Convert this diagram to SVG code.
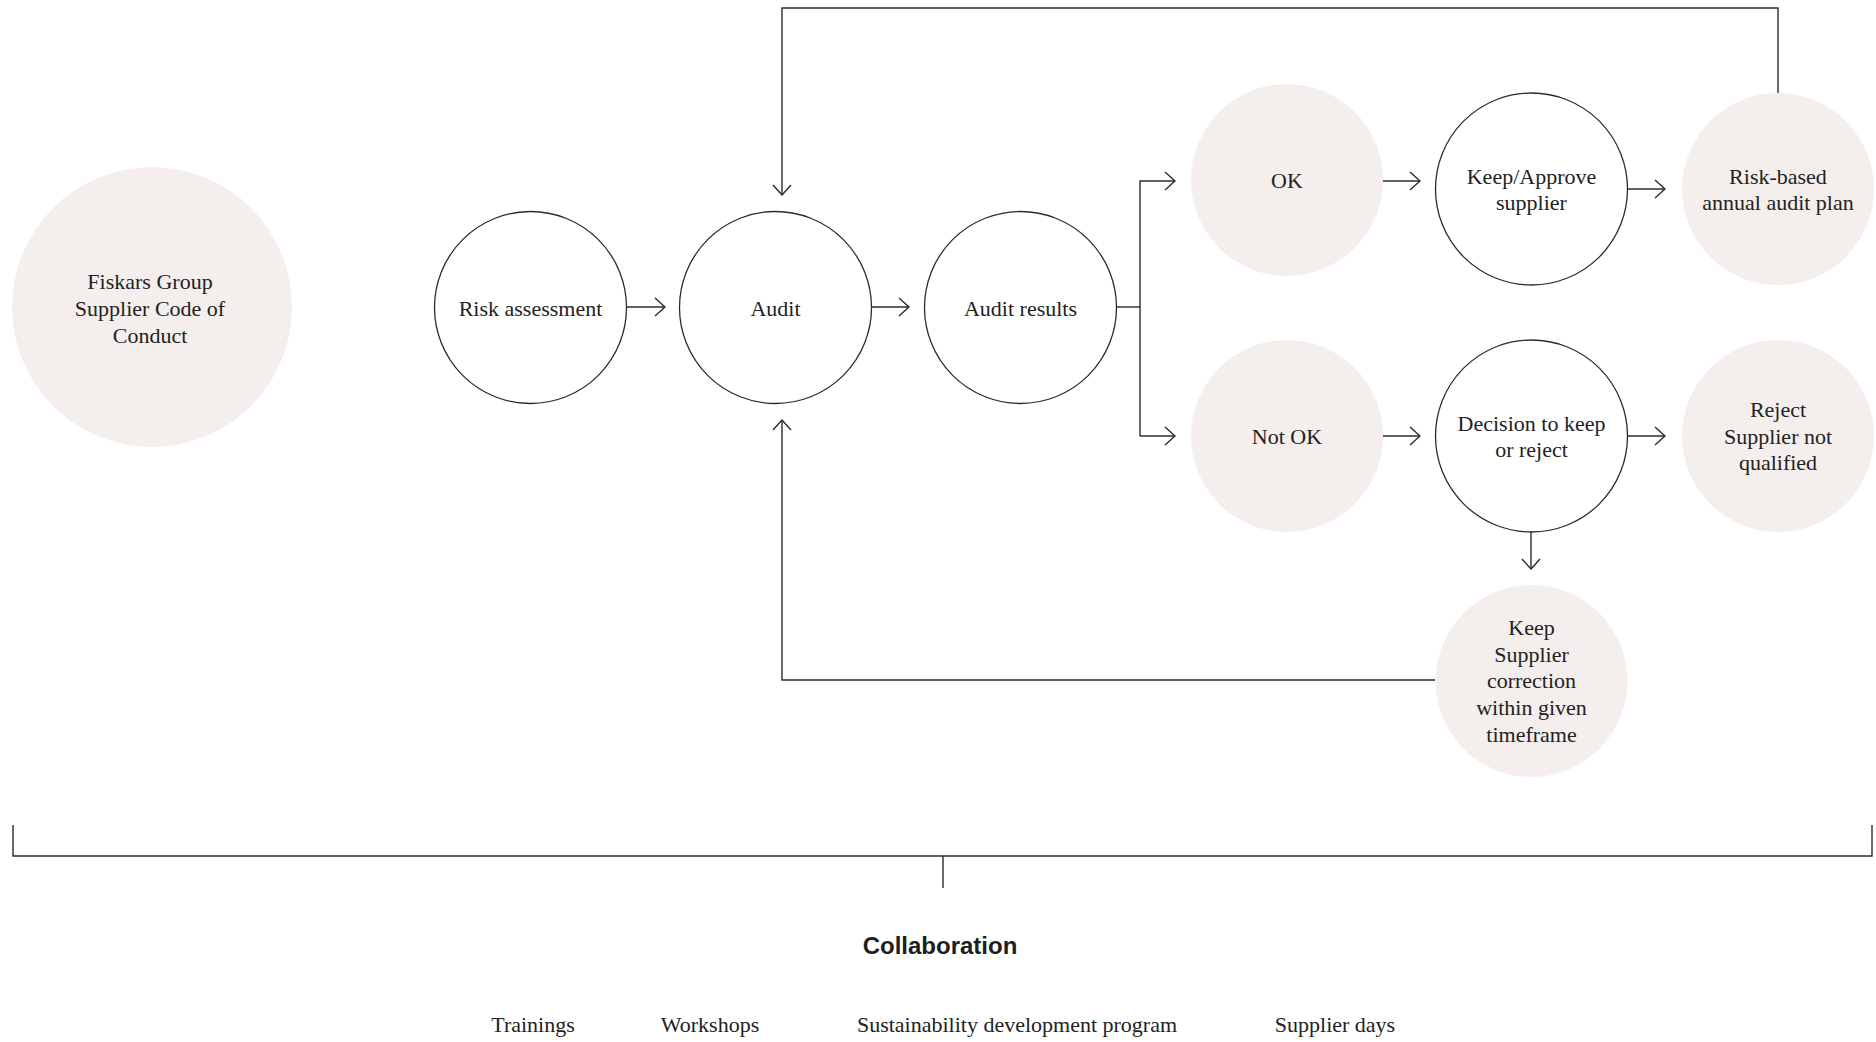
<svg xmlns="http://www.w3.org/2000/svg" width="1876" height="1042" viewBox="0 0 1876 1042">
<style>
  .bg { fill: #ffffff; }
  .soft { fill: #f4efed; stroke: none; }
  .ring { fill: #ffffff; stroke: #2b2b2b; stroke-width: 1.3; }
  .t { font-family: "Liberation Serif", "Times New Roman", serif; font-size: 22px; fill: #222222; text-anchor: middle; }
  .h { font-family: "Liberation Sans", Arial, sans-serif; font-size: 24px; font-weight: bold; fill: #1e1e1e; text-anchor: middle; }
  .c { fill: none; stroke: #2b2b2b; stroke-width: 1.4; }
</style>
<defs>
  <marker id="arr" viewBox="0 0 12 20" refX="11" refY="10" markerWidth="12" markerHeight="20" markerUnits="userSpaceOnUse" orient="auto">
    <path d="M1,1 L11,10 L1,19" fill="none" stroke="#2b2b2b" stroke-width="1.4"/>
  </marker>
</defs>
<rect class="bg" x="0" y="0" width="1876" height="1042"/>

<g id="connectors">
  <line class="c" x1="627" y1="307" x2="665" y2="307" marker-end="url(#arr)"/>
  <line class="c" x1="871" y1="307" x2="909" y2="307" marker-end="url(#arr)"/>
  <polyline class="c" points="1117,307 1140,307"/>
  <polyline class="c" points="1140,436 1140,181 1175,181" marker-end="url(#arr)"/>
  <line class="c" x1="1140" y1="436" x2="1175" y2="436" marker-end="url(#arr)"/>
  <line class="c" x1="1383" y1="181" x2="1420" y2="181" marker-end="url(#arr)"/>
  <line class="c" x1="1628" y1="189" x2="1665" y2="189" marker-end="url(#arr)"/>
  <line class="c" x1="1383" y1="436" x2="1420" y2="436" marker-end="url(#arr)"/>
  <line class="c" x1="1628" y1="436" x2="1665" y2="436" marker-end="url(#arr)"/>
  <line class="c" x1="1531" y1="532" x2="1531" y2="569" marker-end="url(#arr)"/>
  <polyline class="c" points="1435,680 782,680 782,420" marker-end="url(#arr)"/>
  <polyline class="c" points="1778,93 1778,8 782,8 782,195" marker-end="url(#arr)"/>
  <path class="c" d="M13,825 V856 H1872 V825 M943,856 V888"/>
</g>

<g id="node-code">
  <circle class="soft" cx="152" cy="307" r="140"/>
  <text class="t" x="150" y="289">Fiskars Group</text>
  <text class="t" x="150" y="316">Supplier Code of</text>
  <text class="t" x="150" y="343">Conduct</text>
</g>
<g id="node-risk">
  <circle class="ring" cx="530.5" cy="307.5" r="96"/>
  <text class="t" x="530.5" y="316">Risk assessment</text>
</g>
<g id="node-audit">
  <circle class="ring" cx="775.5" cy="307.5" r="96"/>
  <text class="t" x="775.5" y="316">Audit</text>
</g>
<g id="node-results">
  <circle class="ring" cx="1020.5" cy="307.5" r="96"/>
  <text class="t" x="1020.5" y="316">Audit results</text>
</g>
<g id="node-ok">
  <circle class="soft" cx="1287" cy="180" r="96"/>
  <text class="t" x="1287" y="188">OK</text>
</g>
<g id="node-keep">
  <circle class="ring" cx="1531.5" cy="189" r="96"/>
  <text class="t" x="1531.5" y="184">Keep/Approve</text>
  <text class="t" x="1531.5" y="210">supplier</text>
</g>
<g id="node-plan">
  <circle class="soft" cx="1778" cy="189" r="96"/>
  <text class="t" x="1778" y="184">Risk-based</text>
  <text class="t" x="1778" y="210">annual audit plan</text>
</g>
<g id="node-notok">
  <circle class="soft" cx="1287" cy="436" r="96"/>
  <text class="t" x="1287" y="444">Not OK</text>
</g>
<g id="node-decision">
  <circle class="ring" cx="1531.5" cy="436" r="96"/>
  <text class="t" x="1531.5" y="431">Decision to keep</text>
  <text class="t" x="1531.5" y="457">or reject</text>
</g>
<g id="node-reject">
  <circle class="soft" cx="1778" cy="436" r="96"/>
  <text class="t" x="1778" y="417">Reject</text>
  <text class="t" x="1778" y="444">Supplier not</text>
  <text class="t" x="1778" y="470">qualified</text>
</g>
<g id="node-correction">
  <circle class="soft" cx="1531.5" cy="681" r="96"/>
  <text class="t" x="1531.5" y="635">Keep</text>
  <text class="t" x="1531.5" y="662">Supplier</text>
  <text class="t" x="1531.5" y="688">correction</text>
  <text class="t" x="1531.5" y="715">within given</text>
  <text class="t" x="1531.5" y="742">timeframe</text>
</g>
<g id="collaboration">
  <text class="h" x="940" y="954">Collaboration</text>
  <text class="t" x="533" y="1032">Trainings</text>
  <text class="t" x="710" y="1032">Workshops</text>
  <text class="t" x="1017" y="1032">Sustainability development program</text>
  <text class="t" x="1335" y="1032">Supplier days</text>
</g>
</svg>
